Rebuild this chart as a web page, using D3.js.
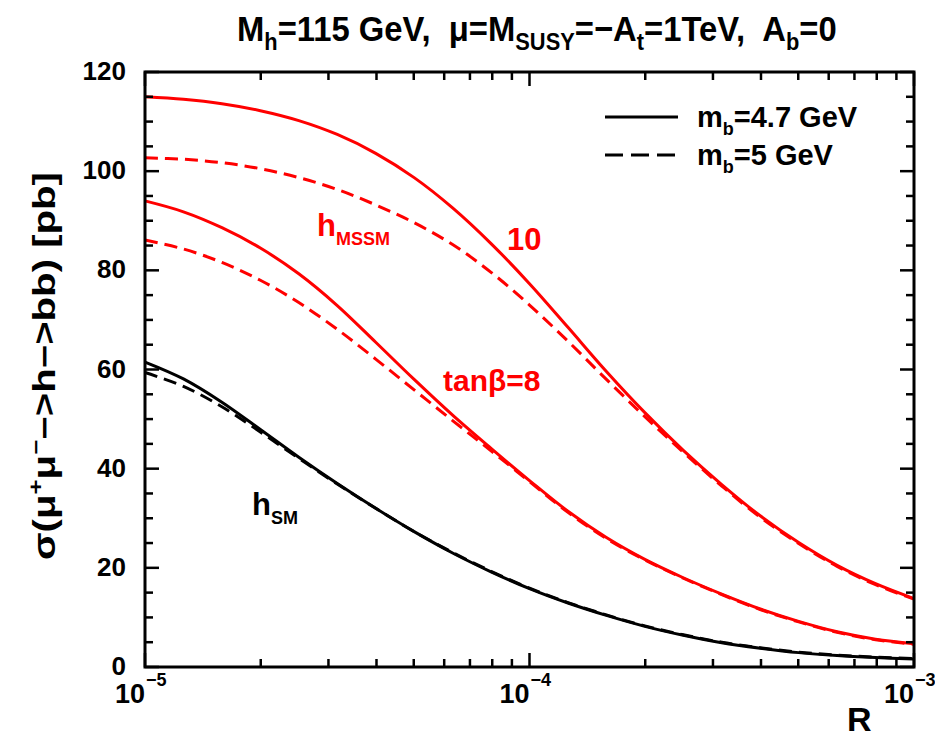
<!DOCTYPE html>
<html><head><meta charset="utf-8">
<script src="https://cdn.jsdelivr.net/npm/d3@7"></script>
<style>
body{margin:0;background:#fff}
text{font-family:"Liberation Sans",Arial,Helvetica,sans-serif;font-weight:bold}
</style>
</head><body>
<svg id="chart" width="935" height="739"></svg>
<script>
// ---- data ----
const logR = [-5.0,-4.9,-4.8,-4.7,-4.6,-4.5,-4.4,-4.3,-4.2,-4.1,-4.0,-3.9,-3.8,-3.7,-3.6,-3.5,-3.4,-3.3,-3.2,-3.1,-3.0];
const mssm10Solid  = [115.0,114.5,113.6,112.2,110.2,107.4,103.6,98.7,92.6,85.4,77.3,68.5,59.6,51.3,43.7,36.8,30.5,25.1,20.5,16.8,13.8];
const mssm10Dashed = [102.7,102.4,101.7,100.5,98.7,96.3,93.2,89.6,85.2,79.6,73.0,65.7,58.0,50.5,43.3,36.5,30.2,24.9,20.3,16.6,13.7];
const mssm8Solid   = [94.0,91.8,88.6,84.5,79.3,72.9,65.5,58.0,50.8,44.1,37.6,31.4,26.1,21.7,18.0,14.7,11.7,9.2,7.1,5.6,4.7];
const mssm8Dashed  = [86.1,84.3,81.6,78.0,73.5,68.1,62.1,55.9,49.7,43.6,37.4,31.2,25.9,21.6,17.9,14.6,11.6,9.1,7.0,5.5,4.6];
const smSolid      = [61.5,58.1,53.4,47.9,42.3,37.0,32.0,27.3,23.0,19.2,15.8,12.9,10.4,8.2,6.4,4.9,3.8,2.9,2.3,1.9,1.6];
const smDashed     = [59.4,56.6,52.5,47.4,42.1,36.9,32.0,27.3,23.1,19.3,15.9,13.0,10.5,8.3,6.5,5.0,3.9,3.0,2.4,2.0,1.7];
const yTicks = [0,20,40,60,80,100,120];
const yMinorStep = 5;
const xDecades = [-5,-4,-3];
const xTickLabels = ["10","10","10"];
const xTickExpLabels = ["\u22125","\u22124","\u22123"];
const legendLabels = [["m","b","=4.7 GeV"],["m","b","=5 GeV"]];

const series = [
  {v: mssm10Solid,  color:"#ff0000", dash:null},
  {v: mssm10Dashed, color:"#ff0000", dash:"13,7"},
  {v: mssm8Solid,   color:"#ff0000", dash:null},
  {v: mssm8Dashed,  color:"#ff0000", dash:"13,7"},
  {v: smSolid,      color:"#000000", dash:null},
  {v: smDashed,     color:"#000000", dash:"13,7"}
];

// ---- layout ----
const L = 145, Rr = 914, T = 72, B = 667;
const svg = d3.select("#chart");
const x = d3.scaleLog().domain([1e-5, 1e-3]).range([L, Rr]);
const y = d3.scaleLinear().domain([0, 120]).range([B, T]);

// curves
const line = d3.line().x(d => x(d[0])).y(d => y(d[1])).curve(d3.curveCatmullRom.alpha(0.5));
series.forEach(s => {
  const pts = logR.map((l, i) => [Math.pow(10, l), s.v[i]]);
  svg.append("path").attr("d", line(pts)).attr("fill", "none")
    .attr("stroke", s.color).attr("stroke-width", 3)
    .attr("stroke-dasharray", s.dash);
});

// axes ticks
const tk = svg.append("g").attr("stroke", "#000").attr("stroke-width", 2.5);
const yMinor = d3.range(0, 120 + 0.001, yMinorStep);
yMinor.forEach(v => {
  const len = yTicks.includes(v) ? 14 : 8;
  tk.append("line").attr("x1", L).attr("x2", L + len).attr("y1", y(v)).attr("y2", y(v));
  tk.append("line").attr("x1", Rr).attr("x2", Rr - len).attr("y1", y(v)).attr("y2", y(v));
});
const xMinor = [];
xDecades.forEach(e => { for (let k = 1; k <= 9; k++) { const val = k * Math.pow(10, e); if (val <= 1.0001e-3) xMinor.push([val, k === 1]); } });
xMinor.forEach(([val, major]) => {
  const len = major ? 14 : 8;
  tk.append("line").attr("x1", x(val)).attr("x2", x(val)).attr("y1", B).attr("y2", B - len);
  tk.append("line").attr("x1", x(val)).attr("x2", x(val)).attr("y1", T).attr("y2", T + len);
});

// frame
svg.append("rect").attr("x", L).attr("y", T).attr("width", Rr - L).attr("height", B - T)
  .attr("fill", "none").attr("stroke", "#000").attr("stroke-width", 3);

// y tick labels
svg.append("g").selectAll("text").data(yTicks).join("text")
  .attr("x", 126).attr("y", d => y(d) + 8).attr("text-anchor", "end")
  .attr("font-size", 26).text(d => d);

// x tick labels
xDecades.forEach((e, i) => {
  const xp = x(Math.pow(10, e));
  svg.append("text").attr("x", xp).attr("y", 703).attr("text-anchor", "end")
    .attr("font-size", 27).text(xTickLabels[i]);
  svg.append("text").attr("x", xp + 1).attr("y", 686).attr("text-anchor", "start")
    .attr("font-size", 18).text(xTickExpLabels[i]);
});

// x axis title
svg.append("text").attr("x", 847).attr("y", 731).attr("font-size", 34).text("R");

// helper to fit text width
function fit(sel, w) {
  const bb = sel.node().getBBox();
  const sx = w / bb.width;
  sel.attr("transform", `scale(${sx},1)`);
}

// text with sub/superscripts: shift carried to the following run
function addParts(t, parts, base, subSize, subDy) {
  let carry = 0;
  parts.forEach(p => {
    const ts = t.append("tspan");
    if (p.sub) {
      ts.attr("font-size", subSize).attr("dy", carry + subDy).text(p.t);
      carry = -subDy;
    } else if (p.sup) {
      ts.attr("font-size", subSize).attr("dy", carry - subDy).text(p.t);
      carry = subDy;
    } else {
      ts.attr("font-size", base).attr("dy", carry).text(p.t);
      carry = 0;
    }
  });
}

// title
const tg = svg.append("g").attr("transform", "translate(237,41)");
const tt = tg.append("text").attr("font-size", 36).style("white-space", "pre");
addParts(tt, [
  {t:"M"},{t:"h",sub:1},{t:"=115 GeV,  \u03bc=M"},{t:"SUSY",sub:1},{t:"=\u2212A"},{t:"t",sub:1},
  {t:"=1TeV,  A"},{t:"b",sub:1},{t:"=0"}
], 36, 24, 9);
fit(tt, 600);

// y axis title
const yg = svg.append("g").attr("transform", "translate(55,366) rotate(-90)");
const yt = yg.append("text").attr("text-anchor", "middle").attr("font-size", 31).style("white-space", "pre");
addParts(yt, [
  {t:"\u03c3(\u03bc"},{t:"+",sup:1},{t:"\u03bc"},{t:"\u2212",sup:1},{t:"\u2212>h\u2212>bb) [pb]"}
], 31, 20, 12);
fit(yt, 388);

// legend
[0, 1].forEach(i => {
  const ly = i === 0 ? 117 : 155;
  svg.append("line").attr("x1", 605).attr("x2", 678).attr("y1", ly).attr("y2", ly)
    .attr("stroke", "#000").attr("stroke-width", 3)
    .attr("stroke-dasharray", i === 0 ? null : "18,8");
  const t = svg.append("text").attr("x", 697).attr("y", ly + 10).attr("font-size", 29).style("white-space", "pre");
  addParts(t, [{t:legendLabels[i][0]},{t:legendLabels[i][1],sub:1},{t:legendLabels[i][2]}], 29, 18, 8);
});

// in-plot labels
const hm = svg.append("text").attr("x", 317).attr("y", 236).attr("fill", "#ff0000").attr("font-size", 31).style("white-space","pre");
addParts(hm, [{t:"h"},{t:"MSSM",sub:1}], 31, 18, 9);
svg.append("text").attr("x", 507).attr("y", 250).attr("fill", "#ff0000").attr("font-size", 31).text("10");
svg.append("text").attr("x", 443).attr("y", 391).attr("fill", "#ff0000").attr("font-size", 30).text("tan\u03b2=8");
const hs = svg.append("text").attr("x", 252).attr("y", 515).attr("fill", "#000").attr("font-size", 31).style("white-space","pre");
addParts(hs, [{t:"h"},{t:"SM",sub:1}], 31, 18, 9);
</script>
</body></html>
